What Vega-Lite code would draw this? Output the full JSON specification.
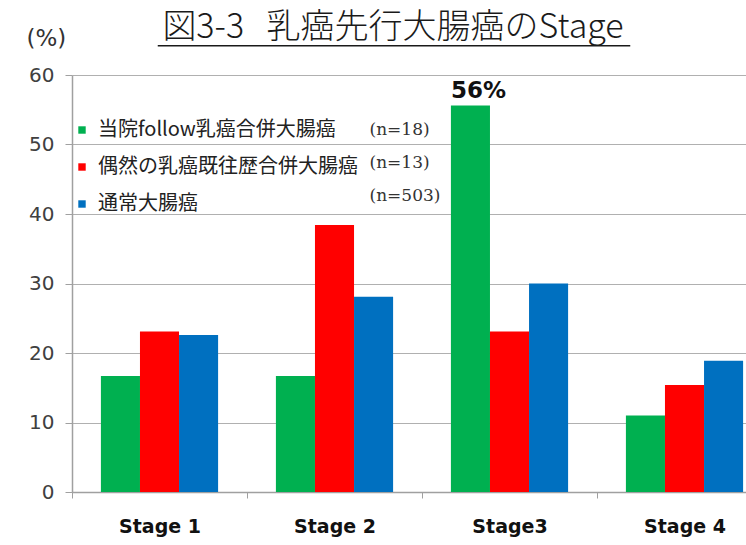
{
  "$schema": "https://vega.github.io/schema/vega-lite/v6.json",
  "width": 700,
  "height": 417,
  "autosize": "none",
  "padding": {"left": 72, "top": 75, "right": 0, "bottom": 53},
  "background": "white",
  "title": {
    "text": "図3-3\u00a0\u00a0\u00a0乳癌先行大腸癌のStage",
    "font": "Noto Sans CJK JP",
    "fontSize": 34,
    "fontWeight": 300,
    "color": "#1a1a1a",
    "anchor": "middle",
    "dx": -29,
    "offset": -18
  },
  "config": {"view": {"stroke": null}},
  "datasets": {
    "bars": [
      {"stage": "Stage 1", "group": "当院follow乳癌合併大腸癌", "value": 16.7},
      {"stage": "Stage 1", "group": "偶然の乳癌既往歴合併大腸癌", "value": 23.1},
      {"stage": "Stage 1", "group": "通常大腸癌", "value": 22.6},
      {"stage": "Stage 2", "group": "当院follow乳癌合併大腸癌", "value": 16.7},
      {"stage": "Stage 2", "group": "偶然の乳癌既往歴合併大腸癌", "value": 38.4},
      {"stage": "Stage 2", "group": "通常大腸癌", "value": 28.1},
      {"stage": "Stage3", "group": "当院follow乳癌合併大腸癌", "value": 55.6, "label": "56%"},
      {"stage": "Stage3", "group": "偶然の乳癌既往歴合併大腸癌", "value": 23.1},
      {"stage": "Stage3", "group": "通常大腸癌", "value": 30.0},
      {"stage": "Stage 4", "group": "当院follow乳癌合併大腸癌", "value": 11.0},
      {"stage": "Stage 4", "group": "偶然の乳癌既往歴合併大腸癌", "value": 15.4},
      {"stage": "Stage 4", "group": "通常大腸癌", "value": 18.9}
    ],
    "notes": [
      {"stage": "Stage 2", "value": 52.1, "note": "(n=18)"},
      {"stage": "Stage 2", "value": 47.4, "note": "(n=13)"},
      {"stage": "Stage 2", "value": 42.6, "note": "(n=503)"}
    ],
    "underline": [
      {"from": "Stage 1", "to": "Stage 4", "level": 64.2}
    ]
  },
  "layer": [
    {
      "data": {"name": "bars"},
      "mark": {"type": "bar"},
      "encoding": {
        "x": {
          "field": "stage",
          "type": "nominal",
          "scale": {"domain": ["Stage 1", "Stage 2", "Stage3", "Stage 4"], "paddingInner": 0, "paddingOuter": 0},
          "axis": {
            "title": null,
            "labelAngle": 0,
            "labelFont": "DejaVu Sans",
            "labelFontWeight": "bold",
            "labelFontSize": 19,
            "labelColor": "#111111",
            "labelPadding": 19,
            "tickBand": "extent",
            "tickSize": 6,
            "tickColor": "#a0a0a0",
            "domainColor": "#a0a0a0",
            "domainWidth": 1.5,
            "grid": false
          }
        },
        "xOffset": {
          "field": "group",
          "type": "nominal",
          "scale": {"domain": ["当院follow乳癌合併大腸癌", "偶然の乳癌既往歴合併大腸癌", "通常大腸癌"], "paddingInner": 0, "paddingOuter": 0.74}
        },
        "y": {
          "field": "value",
          "type": "quantitative",
          "scale": {"domain": [0, 60], "nice": false},
          "axis": {
            "values": [0, 10, 20, 30, 40, 50, 60],
            "title": "(%)",
            "titleAngle": 0,
            "titleAlign": "left",
            "titleBaseline": "middle",
            "titleX": -46,
            "titleY": -37,
            "titleFont": "DejaVu Sans",
            "titleFontSize": 23,
            "titleFontWeight": "normal",
            "titleColor": "#333333",
            "labelFont": "DejaVu Sans",
            "labelFontSize": 20,
            "labelColor": "#404040",
            "labelPadding": 11,
            "tickSize": 7,
            "tickColor": "#a0a0a0",
            "domainColor": "#a0a0a0",
            "domainWidth": 1.5,
            "grid": true,
            "gridColor": "#b0b0b0",
            "gridWidth": 1.2
          }
        },
        "color": {
          "field": "group",
          "type": "nominal",
          "scale": {"domain": ["当院follow乳癌合併大腸癌", "偶然の乳癌既往歴合併大腸癌", "通常大腸癌"], "range": ["#00B050", "#FF0000", "#0070C0"]},
          "legend": {
            "title": null,
            "orient": "none",
            "legendX": 0,
            "legendY": 45,
            "symbolType": "square",
            "symbolSize": 55,
            "symbolStrokeWidth": 0,
            "labelFont": "Noto Sans CJK JP",
            "labelFontSize": 20,
            "labelColor": "#222222",
            "labelOffset": 6,
            "labelLimit": 400,
            "rowPadding": 17
          }
        }
      }
    },
    {
      "data": {"name": "bars"},
      "transform": [{"filter": "datum.label != null"}],
      "mark": {"type": "text", "baseline": "bottom", "align": "center", "dx": 8, "dy": -3, "font": "DejaVu Sans", "fontWeight": "bold", "fontSize": 23, "color": "#111111"},
      "encoding": {
        "x": {"field": "stage", "type": "nominal"},
        "xOffset": {"field": "group", "type": "nominal"},
        "y": {"field": "value", "type": "quantitative"},
        "text": {"field": "label"}
      }
    },
    {
      "data": {"name": "notes"},
      "mark": {"type": "text", "align": "left", "baseline": "middle", "font": "DejaVu Serif", "fontSize": 17, "color": "#333333"},
      "encoding": {
        "x": {"field": "stage", "type": "nominal", "bandPosition": 0.7},
        "y": {"field": "value", "type": "quantitative"},
        "text": {"field": "note"}
      }
    },
    {
      "data": {"name": "underline"},
      "mark": {"type": "rule", "color": "#1a1a1a", "strokeWidth": 1.5},
      "encoding": {
        "x": {"field": "from", "type": "nominal", "bandPosition": 0.49},
        "x2": {"field": "to", "bandPosition": 0.19},
        "y": {"field": "level", "type": "quantitative"}
      }
    }
  ]
}
